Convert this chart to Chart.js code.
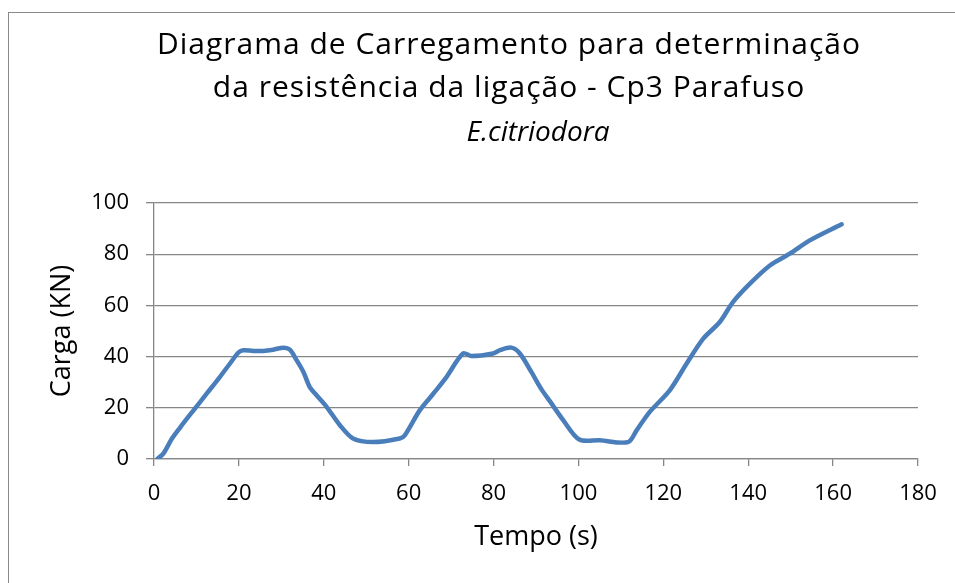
<!DOCTYPE html>
<html><head><meta charset="utf-8">
<script src="https://cdn.jsdelivr.net/npm/chart.js@4/dist/chart.umd.min.js"></script>
<style>
html,body{margin:0;padding:0;background:#fff;overflow:hidden;width:955px;height:583px}
#wrap{position:absolute;left:0;top:0;width:1018px;height:583px}
#frame{position:absolute;left:8px;top:12px;width:1100px;height:700px;border:1px solid #898989;pointer-events:none}
</style></head><body>
<div id="wrap"><canvas id="c" width="1018" height="583"></canvas></div>
<div id="frame"></div>
<script>
const titleLines = ["Diagrama de Carregamento para determinação", "da resistência da ligação - Cp3 Parafuso"];
const subtitleText = "E.citriodora";
const xTitle = "Tempo (s)";
const yTitle = "Carga (KN)";
const tempo = [0.8, 2.2, 4.2, 6.1, 9.3, 12.4, 15.5, 17.9, 19.9, 21, 23.4, 25.7, 28.1, 30.5, 32, 33.6, 35.2, 36.7, 38.3, 40.7, 43.8, 46.9, 51.6, 57.9, 59.1, 62.6, 65.8, 68.9, 72.8, 74.8, 79.9, 81.5, 84.2, 86.2, 88.9, 91.3, 93.3, 96.4, 100.2, 105, 111.7, 113.7, 116.8, 121.5, 125.5, 129.4, 133.3, 136.4, 140.4, 145.1, 149.8, 154.5, 162];
const carga = [0, 2.1, 7.9, 12.2, 19, 25.5, 32, 37.3, 41.6, 42.5, 42.2, 42.2, 42.7, 43.5, 42.7, 38.6, 34, 28.1, 24.9, 20.3, 13.2, 8, 6.6, 8, 9.3, 19, 25.5, 32, 41.2, 40.2, 41.2, 42.5, 43.5, 41.2, 34, 27.2, 22.5, 15.2, 7.6, 7.3, 6.6, 11.2, 18.4, 26.8, 37.3, 47, 53.5, 61.3, 68.5, 75.6, 80.2, 85.4, 91.7];
const xTicks = [0, 20, 40, 60, 80, 100, 120, 140, 160, 180];
const yTicks = [0, 20, 40, 60, 80, 100];

const pts = tempo.map((t, i) => ({x: t, y: carga[i]}));
const FONT = "'Open Sans', 'DejaVu Sans', sans-serif";
const GRID = '#868686';
const SUB_LEAD = '        ';

const chart = new Chart(document.getElementById('c'), {
  type: 'scatter',
  data: { datasets: [{ data: pts, showLine: true, borderColor: '#4a7ebb', borderWidth: 4.5, pointRadius: 0, tension: 0.3, fill: false, borderCapStyle: 'round', borderJoinStyle: 'round' }] },
  options: {
    responsive: false, animation: false, devicePixelRatio: 1,
    layout: { padding: 0 },
    plugins: {
      legend: { display: false }, tooltip: { enabled: false },
      title: { display: true, text: titleLines, color: '#000', font: { family: FONT, size: 30, weight: 'normal', lineHeight: 1.433 }, padding: { top: 24, bottom: 1 } },
      subtitle: { display: true, text: SUB_LEAD + subtitleText, color: '#000', font: { family: FONT, size: 28, style: 'italic', weight: 'normal', lineHeight: 1.536 }, padding: { top: 1, bottom: 48 } }
    },
    scales: {
      x: {
        type: 'linear', min: 0, max: 180,
        afterBuildTicks: s => { s.ticks = xTicks.map(v => ({value: v})); },
        afterFit: s => { s.height = 124; },
        ticks: { color: '#000', font: { family: FONT, size: 22 }, padding: 15, maxRotation: 0 },
        grid: { drawOnChartArea: false, color: GRID, tickLength: 7, lineWidth: 1.3 },
        border: { display: true, color: GRID, width: 1.3 },
        title: { display: true, text: xTitle, color: '#000', font: { family: FONT, size: 27 }, padding: { top: 0, bottom: 29.5 } }
      },
      y: {
        type: 'linear', min: 0, max: 100,
        afterBuildTicks: s => { s.ticks = yTicks.map(v => ({value: v})); },
        afterFit: s => { s.width = 154; },
        ticks: { color: '#000', font: { family: FONT, size: 22 }, padding: 17 },
        grid: { color: GRID, tickLength: 8, lineWidth: 1.3 },
        border: { display: true, color: GRID, width: 1.3 },
        title: { display: true, text: yTitle, color: '#000', font: { family: FONT, size: 27 }, padding: { top: 46, bottom: 0 } }
      },
      yPad: {
        type: 'linear', position: 'right', display: true, min: 0, max: 100,
        afterFit: s => { s.width = 100; },
        ticks: { display: false },
        grid: { display: false, drawOnChartArea: false },
        border: { display: false }
      }
    }
  }
});

// widen the main title slightly (the reference font is wider than Open Sans)
const tb = chart.titleBlock;
if (tb) {
  const origDraw = tb.draw;
  tb.draw = function (area) {
    const c = this.ctx;
    c.save();
    c.letterSpacing = '1px';
    origDraw.call(this, area);
    c.restore();
  };
  chart.draw();
}
</script>
</body></html>
